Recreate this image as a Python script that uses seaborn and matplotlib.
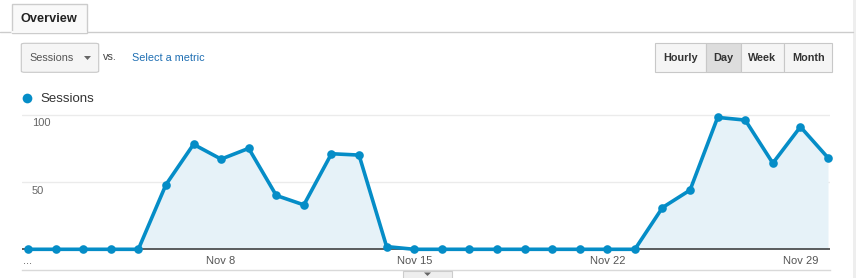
import matplotlib
matplotlib.use("Agg")
import matplotlib.pyplot as plt
from matplotlib.patches import Rectangle, FancyBboxPatch, Polygon
import seaborn as sns
import pandas as pd

# ---- data ----
days = list(range(1, 31))  # November 1..30
sessions = [0, 0, 0, 0, 0, 48, 78, 67, 75, 40, 33, 71, 70, 2, 0,
            0, 0, 0, 0, 0, 0, 0, 0, 31, 44, 98, 96, 64, 91, 68]
xtick_days = [1, 8, 15, 22, 29]
xtick_labels = ["...", "Nov 8", "Nov 15", "Nov 22", "Nov 29"]
ytick_values = [50, 100]
ytick_labels = ["50", "100"]
buttons = ["Hourly", "Day", "Week", "Month"]
series_name = "Sessions"

df = pd.DataFrame({"day": days, "sessions": sessions})

sns.set_theme(style="white")
plt.rcParams["font.family"] = ["Liberation Sans", "DejaVu Sans"]

W, H = 856, 278
fig = plt.figure(figsize=(W / 100, H / 100), dpi=100)
fig.patch.set_facecolor("white")

def fx(x):
    return x / W

def fy(y):
    return 1 - y / H

LINE = "#058DC7"
FILL = "#E6F2F8"

# ---- main axes ----
ax_l, ax_r, ax_t, ax_b = 22, 830, 106, 270
ax = fig.add_axes([fx(ax_l), fy(ax_b), (ax_r - ax_l) / W, (ax_b - ax_t) / H])
ax.set_facecolor("none")
pxu = 800 / 29.0
ax.set_xlim(1 - 6 / pxu, 30 + 2 / pxu)
ypu = 1.346
ax.set_ylim(-(270 - 249.3) / ypu, 100 + (114.7 - ax_t) / ypu)

for v in ytick_values:
    ax.axhline(v, color="#ebebeb", lw=1, zorder=0)
ax.axhline(0, color="#333333", lw=1.1, zorder=1)
ax.fill_between(df["day"], 0, df["sessions"], color=FILL, zorder=0.5, lw=0)
sns.lineplot(data=df, x="day", y="sessions", ax=ax, color=LINE, lw=2.6,
             marker="o", markersize=6.2, markeredgewidth=0, zorder=3,
             clip_on=False)

for v, lab in zip(ytick_values, ytick_labels):
    ax.annotate(lab, xy=(0, v), xycoords=("axes fraction", "data"),
                xytext=(10, -8.5), textcoords="offset pixels",
                ha="left", va="center", fontsize=8, color="#666666")
for d, lab in zip(xtick_days, xtick_labels):
    ax.annotate(lab, xy=(d, 0), xytext=(0, -11.5), textcoords="offset pixels",
                ha="center", va="center", fontsize=8, color="#555555")

ax.set_xticks([])
ax.set_yticks([])
ax.set_xlabel("")
ax.set_ylabel("")
for s in ["top", "left", "right"]:
    ax.spines[s].set_visible(False)
ax.spines["bottom"].set_color("#d9d9d9")
ax.spines["bottom"].set_linewidth(1)

# ---- decorations (figure coordinates) ----
tr = fig.transFigure

def rect(x0, y0, x1, y1, fc, ec, lw=1, z=1, rounded=0.0):
    if rounded:
        p = FancyBboxPatch((fx(x0), fy(y1)), fx(x1) - fx(x0), fy(y0) - fy(y1),
                           boxstyle=f"round,pad=0,rounding_size={rounded}",
                           transform=tr, fc=fc, ec=ec, lw=lw, zorder=z)
    else:
        p = Rectangle((fx(x0), fy(y1)), fx(x1) - fx(x0), fy(y0) - fy(y1),
                      transform=tr, fc=fc, ec=ec, lw=lw, zorder=z)
    fig.patches.append(p)

# top separator line
fig.add_artist(plt.Line2D([0, fx(853)], [fy(32.3), fy(32.3)], transform=tr,
                          color="#cccccc", lw=1))
# Overview tab
rect(11.7, 4, 86.7, 32.8, "#f9f9f9", "#cccccc", lw=1, z=2)
fig.add_artist(plt.Line2D([fx(12.2), fx(86.2)], [fy(32.3), fy(32.3)], transform=tr,
                          color="#f9f9f9", lw=1.4, zorder=3))
fig.text(fx(20.5), fy(18.5), "Overview", fontsize=9.2, fontweight="bold",
         color="#222222", ha="left", va="center")

# right strip
rect(853, 0, 856, 278, "#eeeeee", "none", lw=0)

# Sessions dropdown
rect(21.3, 43.3, 98.7, 72.3, "#f5f5f5", "#c8c8c8", lw=0.8, rounded=0.004)
fig.text(fx(29.3), fy(58), "Sessions", fontsize=7.8, color="#555555",
         ha="left", va="center")
fig.patches.append(Polygon([(fx(84), fy(56)), (fx(91), fy(56)), (fx(87.5), fy(60))],
                           closed=True, transform=tr, fc="#666666", ec="none"))
fig.text(fx(103), fy(57), "vs.", fontsize=7.8, color="#444444",
         ha="left", va="center")
fig.text(fx(132), fy(58), "Select a metric", fontsize=7.8, color="#1f6fb3",
         ha="left", va="center")

# time buttons
edges = [655, 706, 740.7, 784.3, 832.3]
for i, b in enumerate(buttons):
    fc = "#dddddd" if b == "Day" else "#f5f5f5"
    rect(edges[i], 43.3, edges[i + 1], 72.3, fc, "#c8c8c8", lw=0.8)
    fig.text(fx((edges[i] + edges[i + 1]) / 2), fy(58), b, fontsize=7.8,
             fontweight="bold", color="#333333", ha="center", va="center")

# legend marker + label
fig.add_artist(plt.Line2D([fx(27)], [fy(98)], transform=tr, marker="o",
                          markersize=7, markeredgewidth=0, color=LINE,
                          linestyle="none"))
fig.text(fx(40), fy(98.5), series_name, fontsize=9.5, color="#333333",
         ha="left", va="center")

# bottom collapse button
rect(402.7, 270.7, 451.7, 279, "#eeeeee", "#cccccc", lw=0.8)
fig.patches.append(Polygon([(fx(424), fy(272.5)), (fx(431), fy(272.5)), (fx(427.5), fy(276))],
                           closed=True, transform=tr, fc="#666666", ec="none"))

fig.savefig("out.png", dpi=100)
